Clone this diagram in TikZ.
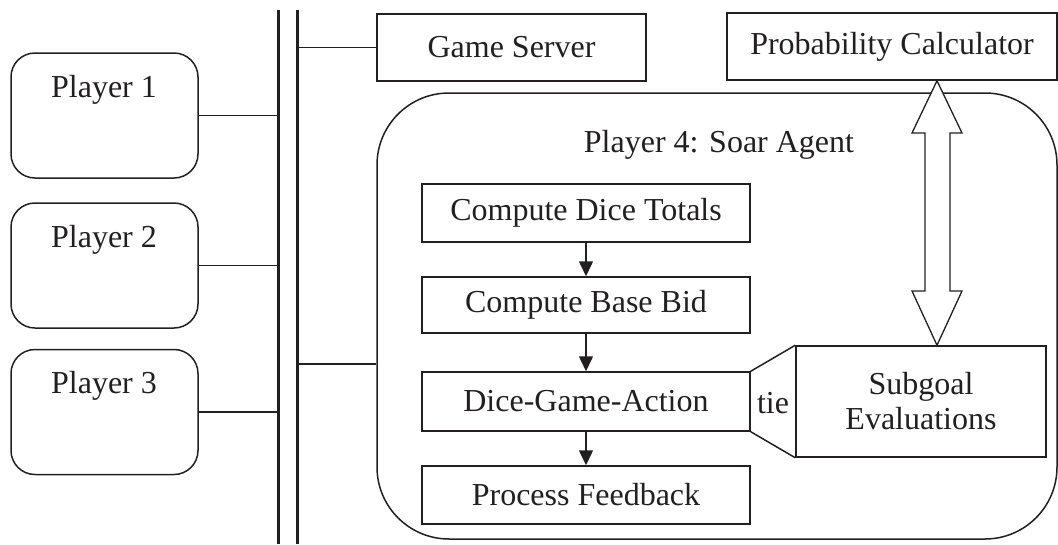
\documentclass[tikz,border=0pt]{standalone}
\usepackage{fontspec}
\setmainfont{Liberation Serif}
\usetikzlibrary{arrows.meta,positioning,calc}
\definecolor{ink}{HTML}{231F20}
\begin{document}
\begin{tikzpicture}[x=1pt,y=-1pt,
  every node/.style={font=\fontsize{32}{37}\selectfont, text=ink},
  box/.style={draw=ink, line width=1.5pt, rectangle, inner sep=0pt},
  pbox/.style={draw=ink, line width=1.5pt, rounded corners=24pt, minimum width=187pt, minimum height=125pt, inner sep=0pt},
  link/.style={draw=ink, line width=1.5pt},
  bar/.style={draw=ink, line width=3pt},
  flow/.style={draw=ink, line width=1.5pt, -{Triangle[width=14pt,length=15pt]}}]
\useasboundingbox (0,0) rectangle (1058,544);
% bus bars
\coordinate (barLtop) at (278,10);
\coordinate (barLbot) at (278,544);
\coordinate (barRtop) at (297,10);
\coordinate (barRbot) at (297,544);
\draw[bar] (barLtop) -- (barLbot);
\draw[bar] (barRtop) -- (barRbot);
% players
\node[pbox] (p1) at (104.5,115.5) {};
\node[pbox] (p2) at (104.5,265.5) {};
\node[pbox] (p3) at (104.5,412) {};
\node (p1t) at (104,90) {Player 1};
\node (p2t) at (104,240) {Player 2};
\node (p3t) at (104,386) {Player 3};
\draw[link] (p1.east) -- (p1.east -| barLtop);
\draw[link] (p2.east) -- (p2.east -| barLtop);
\draw[link] (p3.east) -- (p3.east -| barLtop);
% game server and probability calculator
\node[box, minimum width=269pt, minimum height=67pt] (gs) at (511.5,47.5) {Game Server};
\draw[draw=ink, line width=2.6pt] (646,23) -- (646,71);
\draw[link] (gs.west) -- (gs.west -| barRtop);
\node[box, minimum width=330pt, minimum height=67pt] (pc) at (892,46.5) {Probability Calculator};
% agent
\node[draw=ink, line width=1.5pt, rounded corners=72pt, minimum width=680pt, minimum height=446pt, inner sep=0pt] (agent) at (717,316) {};
\node (agt) at (719,145) {Player 4: Soar Agent};
\draw[link] (agent.west |- 0,364) -- (barRtop |- 0,364);
% inner flow
\node[box, minimum width=328pt, minimum height=58pt] (cdt) at (586,213) {Compute Dice Totals};
\node[box, minimum width=328pt, minimum height=56pt] (cbb) at (586,305) {Compute Base Bid};
\node[box, minimum width=328pt, minimum height=59pt] (dga) at (586,401.5) {Dice-Game-Action};
\node[box, minimum width=328pt, minimum height=58pt] (pf) at (586,495) {Process Feedback};
\draw[flow] (cdt) -- (cbb);
\draw[flow] (cbb) -- (dga);
\draw[flow] (dga) -- (pf);
% subgoal
\node[box, minimum width=250pt, minimum height=111pt, align=center, font=\fontsize{32}{35}\selectfont] (sg) at (921,401.5) {Subgoal\\Evaluations};
\draw[link] (dga.north east) -- (sg.north west);
\draw[link] (dga.south east) -- (sg.south west);
\node (tie) at (773,403) {tie};
% double arrow
\draw[draw=ink, line width=1.3pt, fill=white, line join=miter]
  (pc.south -| 937,0) -- (962,133) -- (950,133) -- (950,291) -- (962,291)
  -- (sg.north -| 937,0) -- (912,291) -- (925,291) -- (925,133) -- (912,133) -- cycle;
\end{tikzpicture}
\end{document}
